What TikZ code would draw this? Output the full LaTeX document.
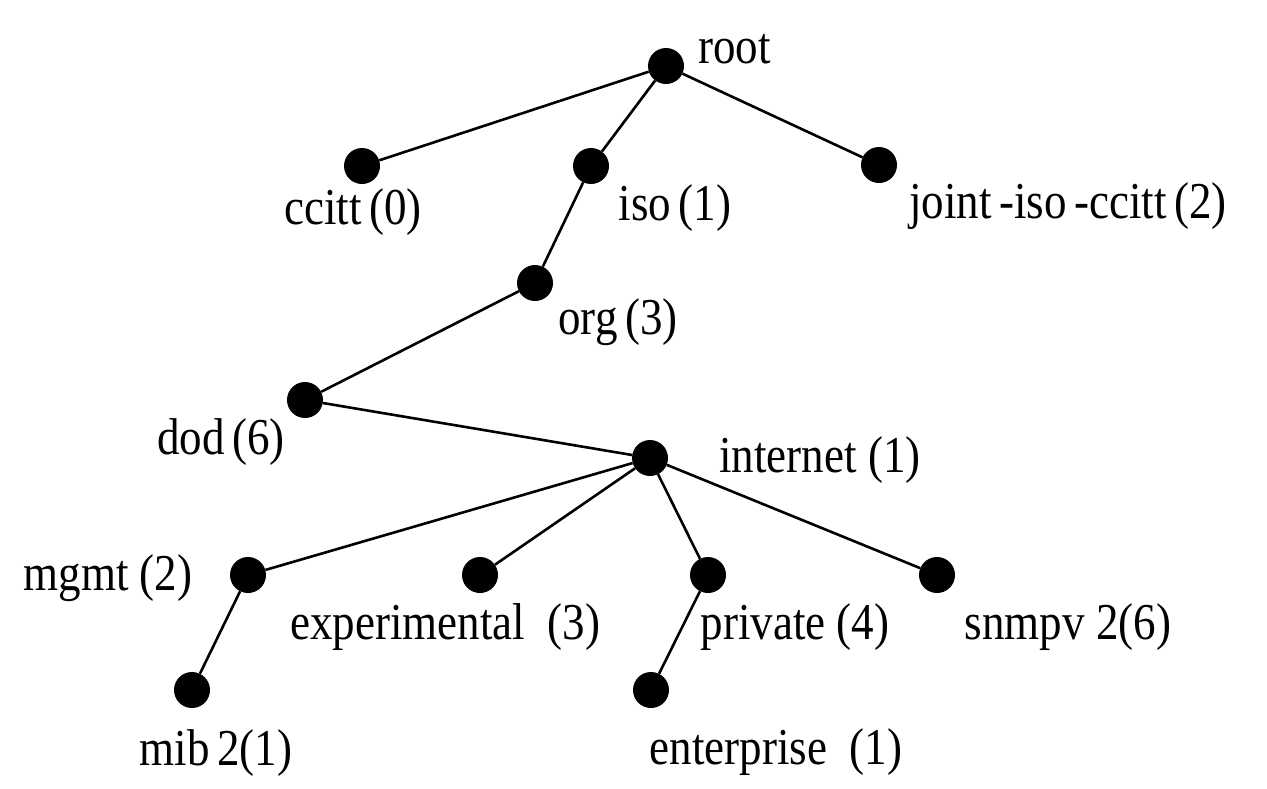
\documentclass[tikz,border=0pt]{standalone}
\usepackage{graphicx}
\usepackage{fontspec}
\setmainfont{Liberation Serif}
\newcommand\tallt[1]{\scalebox{1}[1.15]{#1}}
\begin{document}
\begin{tikzpicture}[x=1pt,y=-1pt,
  dot/.style={circle,fill=black,inner sep=0pt,minimum size=36pt},
  lbl/.style={font=\fontsize{45}{50}\selectfont,inner sep=0pt,anchor=center},
  edge/.style={line width=2.6pt}]
\fill[white] (0,0) rectangle (1267,788);
\useasboundingbox (0,0) rectangle (1267,788);
% dots
\node[dot] (root) at (666,66) {};
\node[dot] (ccitt) at (362,166) {};
\node[dot] (iso) at (591,166) {};
\node[dot] (joint) at (879,165) {};
\node[dot] (org) at (535,283) {};
\node[dot] (dod) at (305,400) {};
\node[dot] (internet) at (650,458) {};
\node[dot] (mgmt) at (248,575) {};
\node[dot] (exper) at (480,575) {};
\node[dot] (private) at (708,575) {};
\node[dot] (snmp) at (937,575) {};
\node[dot] (mib) at (192,690) {};
\node[dot] (enter) at (651,690) {};
% edges
\draw[edge] (root) -- (ccitt);
\draw[edge] (root) -- (iso);
\draw[edge] (root) -- (joint);
\draw[edge] (iso) -- (org);
\draw[edge] (org) -- (dod);
\draw[edge] (dod) -- (internet);
\draw[edge] (internet) -- (mgmt);
\draw[edge] (internet) -- (exper);
\draw[edge] (internet) -- (private);
\draw[edge] (internet) -- (snmp);
\draw[edge] (mgmt) -- (mib);
\draw[edge] (private) -- (enter);
% labels
\node[lbl,anchor=base west] (lroot) at (698,63) {\tallt{root}};
\node[lbl] (lccitt) at (353,212) {\tallt{ccitt\,(0)}};
\node[lbl] (liso) at (675,208) {\tallt{iso\,(1)}};
\node[lbl] (ljoint) at (1068,206) {\tallt{joint\,-iso\,-ccitt\,(2)}};
\node[lbl] (lorg) at (618,322) {\tallt{org\,(3)}};
\node[lbl] (ldod) at (221,442) {\tallt{dod\,(6)}};
\node[lbl] (linternet) at (820,460) {\tallt{internet (1)}};
\node[lbl] (lmgmt) at (108,578) {\tallt{mgmt (2)}};
\node[lbl] (lexper) at (445,627) {\tallt{experimental\ \ (3)}};
\node[lbl] (lprivate) at (795,627) {\tallt{private (4)}};
\node[lbl] (lsnmp) at (1068,627) {\tallt{snmpv 2(6)}};
\node[lbl] (lmib) at (216,753) {\tallt{mib\,2(1)}};
\node[lbl] (lenter) at (776,752) {\tallt{enterprise\ \ (1)}};
\end{tikzpicture}
\end{document}
